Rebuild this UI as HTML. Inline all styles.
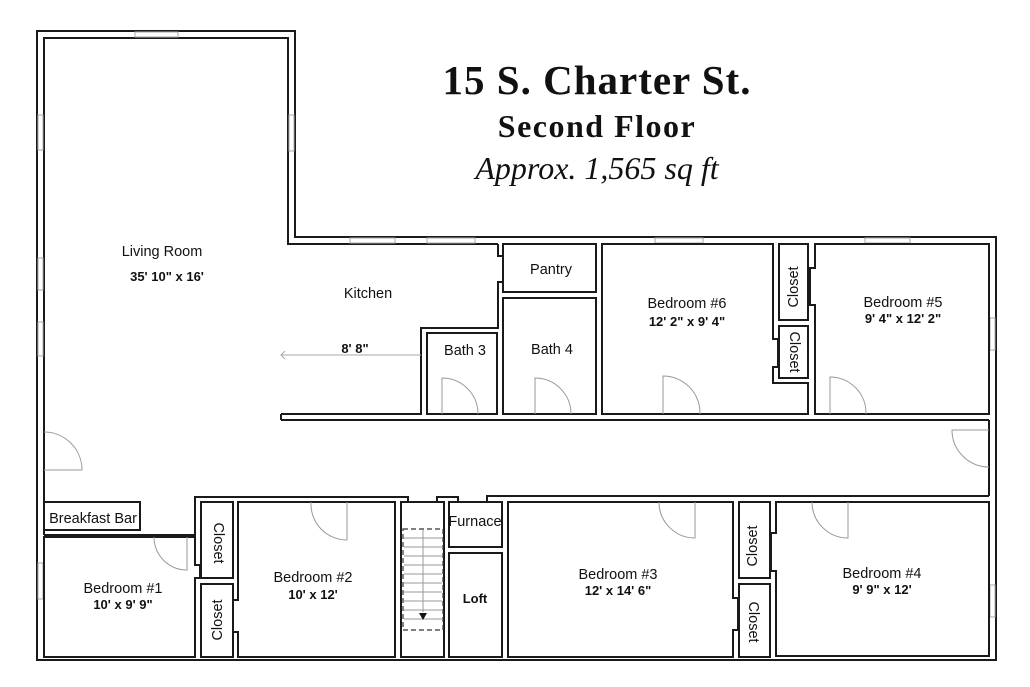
<!DOCTYPE html>
<html><head><meta charset="utf-8"><style>
html,body{margin:0;padding:0;background:#fff;}
svg{display:block;}
.w{fill:none;stroke:#1a1a1a;stroke-width:2;}
.r{fill:#fff;stroke:#1a1a1a;stroke-width:2;}
.d{fill:none;stroke:#999;stroke-width:1;}
.t{font-family:"Liberation Sans",sans-serif;font-size:14.5px;fill:#111;text-anchor:middle;}
.b{font-weight:bold;font-size:13px;}
.h{font-family:"Liberation Serif",serif;fill:#111;text-anchor:middle;}
</style></head><body>
<svg width="1030" height="687" viewBox="0 0 1030 687" xmlns="http://www.w3.org/2000/svg">
<rect width="1030" height="687" fill="#fff"/>
<polygon class="w" points="37,31 295,31 295,237 996,237 996,660 37,660"/>
<polyline class="w" points="44,535 44,38 288,38 288,244 498,244"/>
<g fill="#fff" stroke="#aaa" stroke-width="1">
<rect x="135" y="32" width="43" height="5"/>
<rect x="38" y="115" width="5" height="35"/><rect x="38" y="258" width="5" height="32"/><rect x="38" y="322" width="5" height="34"/><rect x="38" y="563" width="5" height="36"/>
<rect x="289" y="115" width="5" height="36"/>
<rect x="350" y="238" width="45" height="5"/><rect x="427" y="238" width="48" height="5"/>
<rect x="655" y="238" width="48" height="5"/><rect x="865" y="238" width="45" height="5"/>
<rect x="990" y="318" width="5" height="32"/><rect x="990" y="585" width="5" height="32"/>
</g>
<polyline class="w" points="281,414 421,414 421,328 498,328 498,282 502,282"/>
<polyline class="w" points="498,244 498,256 502,256"/>
<line class="w" x1="281" y1="414" x2="281" y2="420"/>
<line class="w" x1="281" y1="420" x2="989" y2="420"/>
<line class="w" x1="989" y1="420" x2="989" y2="496"/>
<rect class="r" x="427" y="333" width="70" height="81"/>
<rect class="r" x="503" y="244" width="93" height="48"/>
<rect class="r" x="503" y="298" width="93" height="116"/>
<polygon class="r" points="602,244 773,244 773,339 778,339 778,367 773,367 773,383 808,383 808,414 602,414"/>
<rect class="r" x="779" y="244" width="29" height="76"/>
<rect class="r" x="779" y="326" width="29" height="52"/>
<polygon class="r" points="815,244 989,244 989,414 815,414 815,305 810,305 810,268 815,268"/>
<polyline class="w" points="989,496 487,496 487,502"/>
<polyline class="w" points="458,502 458,497 437,497 437,502"/>
<polyline class="w" points="408,502 408,497 195,497 195,535 44,535"/>
<rect class="r" x="44" y="502" width="96" height="28"/>
<polygon class="r" points="44,537 195,537 195,565 200,565 200,578 195,578 195,657 44,657"/>
<rect class="r" x="201" y="502" width="32" height="76"/>
<rect class="r" x="201" y="584" width="32" height="73"/>
<polygon class="r" points="238,502 395,502 395,657 238,657 238,632 233,632 233,600 238,600"/>
<rect class="r" x="401" y="502" width="43" height="155"/>
<rect class="r" x="449" y="502" width="53" height="45"/>
<rect class="r" x="449" y="553" width="53" height="104"/>
<polygon class="r" points="508,502 733,502 733,598 738,598 738,630 733,630 733,657 508,657"/>
<rect class="r" x="739" y="502" width="31" height="76"/>
<rect class="r" x="739" y="584" width="31" height="73"/>
<polygon class="r" points="776,502 989,502 989,656 776,656 776,571 771,571 771,533 776,533"/>
<rect x="403" y="529" width="40" height="101" fill="none" stroke="#333" stroke-width="1.2" stroke-dasharray="5,3"/>
<g stroke="#999" stroke-width="1">
<line x1="404" y1="538" x2="442" y2="538"/><line x1="404" y1="547" x2="442" y2="547"/><line x1="404" y1="556" x2="442" y2="556"/><line x1="404" y1="565" x2="442" y2="565"/><line x1="404" y1="574" x2="442" y2="574"/><line x1="404" y1="583" x2="442" y2="583"/><line x1="404" y1="592" x2="442" y2="592"/><line x1="404" y1="601" x2="442" y2="601"/><line x1="404" y1="610" x2="442" y2="610"/><line x1="404" y1="619" x2="442" y2="619"/>
<line x1="423" y1="530" x2="423" y2="612"/>
</g>
<polygon points="419,613 427,613 423,620" fill="#111"/>
<path class="d" d="M44,470 L82,470 M44,432 A38,38 0 0 1 82,470"/>
<path class="d" d="M442,414 L442,378 A36,36 0 0 1 478,414"/>
<path class="d" d="M535,414 L535,378 A36,36 0 0 1 571,414"/>
<path class="d" d="M663,414 L663,376 A37,37 0 0 1 700,414"/>
<path class="d" d="M830,414 L830,377 A36,36 0 0 1 866,414"/>
<path class="d" d="M989,430 L952,430 A37,37 0 0 0 989,467"/>
<path class="d" d="M187,537 L187,570 A33,33 0 0 1 154,537"/>
<path class="d" d="M347,502 L347,540 A36,36 0 0 1 311,502"/>
<path class="d" d="M695,502 L695,538 A36,36 0 0 1 659,502"/>
<path class="d" d="M848,502 L848,538 A36,36 0 0 1 812,502"/>
<line x1="281" y1="355" x2="421" y2="355" stroke="#aaa" stroke-width="1"/>
<path d="M285,351 L281,355 L285,359" fill="none" stroke="#aaa" stroke-width="1"/>
<text class="h" x="597" y="94" font-size="41" font-weight="bold" letter-spacing="1">15 S. Charter St.</text>
<text class="h" x="597" y="137" font-size="32" font-weight="bold" letter-spacing="1.5">Second Floor</text>
<text class="h" x="597" y="179" font-size="32" font-style="italic">Approx. 1,565 sq ft</text>
<text class="t" x="162" y="256">Living Room</text>
<text class="t b" x="167" y="281">35' 10" x 16'</text>
<text class="t" x="368" y="298">Kitchen</text>
<text class="t b" x="355" y="353">8' 8"</text>
<text class="t" x="465" y="355" font-size="15">Bath 3</text>
<text class="t" x="552" y="354" font-size="15">Bath 4</text>
<text class="t" x="551" y="274" font-size="13">Pantry</text>
<text class="t" x="687" y="308">Bedroom #6</text>
<text class="t b" x="687" y="326">12' 2" x 9' 4"</text>
<text class="t" x="903" y="307">Bedroom #5</text>
<text class="t b" x="903" y="323">9' 4" x 12' 2"</text>
<text class="t" font-size="12" transform="translate(798,287) rotate(-90)">Closet</text>
<text class="t" font-size="12" transform="translate(790,352) rotate(90)">Closet</text>
<text class="t" x="93" y="523" font-size="13">Breakfast Bar</text>
<text class="t" font-size="12" transform="translate(214,543) rotate(90)">Closet</text>
<text class="t" font-size="12" transform="translate(222,620) rotate(-90)">Closet</text>
<text class="t" x="123" y="593">Bedroom #1</text>
<text class="t b" x="123" y="609">10' x 9' 9"</text>
<text class="t" x="313" y="582">Bedroom #2</text>
<text class="t b" x="313" y="599">10' x 12'</text>
<text class="t" x="475" y="526" font-size="13">Furnace</text>
<text class="t b" x="475" y="603">Loft</text>
<text class="t" x="618" y="579">Bedroom #3</text>
<text class="t b" x="618" y="595">12' x 14' 6"</text>
<text class="t" font-size="12" transform="translate(757,546) rotate(-90)">Closet</text>
<text class="t" font-size="12" transform="translate(749,622) rotate(90)">Closet</text>
<text class="t" x="882" y="578">Bedroom #4</text>
<text class="t b" x="882" y="594">9' 9" x 12'</text>
</svg>
</body></html>
